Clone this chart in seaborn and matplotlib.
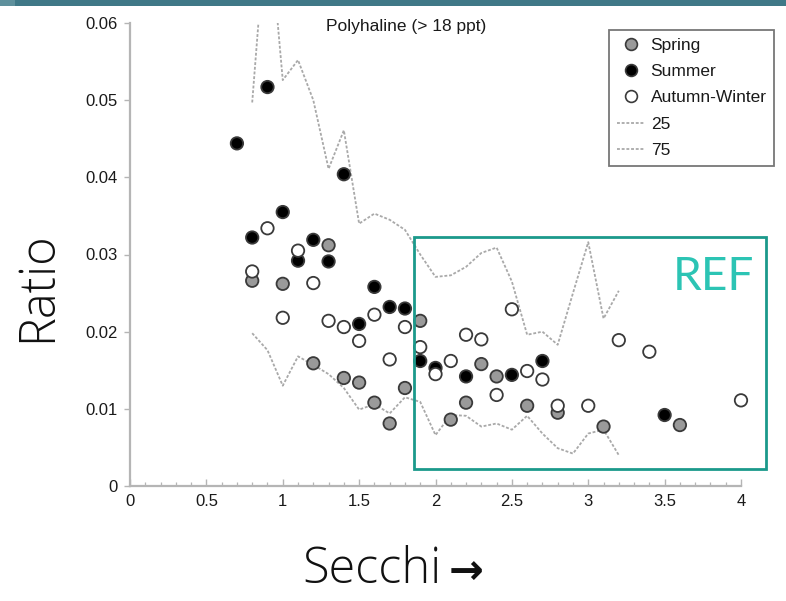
import matplotlib
matplotlib.use("Agg")
import matplotlib.pyplot as plt
from matplotlib.lines import Line2D
from matplotlib.patches import Rectangle
import seaborn as sns
import pandas as pd

# ---------------- data ----------------
spring_x = [0.8, 1.0, 1.3, 1.2, 1.4, 1.5, 1.6, 1.7, 1.8, 1.9, 2.1, 2.2, 2.3, 2.4, 2.6, 2.8, 3.1, 3.6]
spring_y = [0.0266, 0.0262, 0.0312, 0.0159, 0.0140, 0.0134, 0.0108, 0.0081, 0.0127, 0.0214,
            0.0086, 0.0108, 0.0158, 0.0142, 0.0104, 0.0095, 0.0077, 0.0079]

summer_x = [0.7, 0.9, 0.8, 1.0, 1.1, 1.2, 1.3, 1.4, 1.5, 1.6, 1.7, 1.8, 1.9, 2.0, 2.2, 2.5, 2.7, 3.5]
summer_y = [0.0444, 0.0517, 0.0322, 0.0355, 0.0292, 0.0319, 0.0291, 0.0404, 0.0210, 0.0258,
            0.0232, 0.0230, 0.0162, 0.0153, 0.0142, 0.0144, 0.0162, 0.0092]

autumn_x = [0.8, 0.9, 1.0, 1.1, 1.2, 1.3, 1.4, 1.5, 1.6, 1.7, 1.8, 1.9, 2.0, 2.1, 2.2, 2.3,
            2.4, 2.5, 2.6, 2.7, 2.8, 3.0, 3.2, 3.4, 4.0]
autumn_y = [0.0278, 0.0334, 0.0218, 0.0305, 0.0263, 0.0214, 0.0206, 0.0188, 0.0222, 0.0164,
            0.0206, 0.0180, 0.0145, 0.0162, 0.0196, 0.0190, 0.0118, 0.0229, 0.0149, 0.0138,
            0.0104, 0.0104, 0.0189, 0.0174, 0.0111]

line_x = [0.8, 0.9, 1.0, 1.1, 1.2, 1.3, 1.4, 1.5, 1.6, 1.7, 1.8, 1.9, 2.0, 2.1, 2.2, 2.3,
          2.4, 2.5, 2.6, 2.7, 2.8, 2.9, 3.0, 3.1, 3.2]
p25 = [0.0198, 0.0176, 0.0130, 0.0168, 0.0157, 0.0145, 0.0127, 0.0099, 0.0106, 0.0094,
       0.0115, 0.0109, 0.0066, 0.0092, 0.0091, 0.0077, 0.0081, 0.0073, 0.0091, 0.0068,
       0.0049, 0.0042, 0.0068, 0.0073, 0.0040]
p75 = [0.0497, 0.0750, 0.0526, 0.0552, 0.0500, 0.0411, 0.0461, 0.0340, 0.0353, 0.0345,
       0.0332, 0.0300, 0.0271, 0.0273, 0.0284, 0.0302, 0.0309, 0.0265, 0.0196, 0.0200,
       0.0183, 0.0250, 0.0316, 0.0217, 0.0253]

seasons = ["Spring", "Summer", "Autumn-Winter"]
x_ticks = [0, 0.5, 1, 1.5, 2, 2.5, 3, 3.5, 4]
x_tick_labels = ["0", "0.5", "1", "1.5", "2", "2.5", "3", "3.5", "4"]
y_ticks = [0, 0.01, 0.02, 0.03, 0.04, 0.05, 0.06]
y_tick_labels = ["0", "0.01", "0.02", "0.03", "0.04", "0.05", "0.06"]

df = pd.concat([
    pd.DataFrame({"secchi": spring_x, "ratio": spring_y, "season": "Spring"}),
    pd.DataFrame({"secchi": summer_x, "ratio": summer_y, "season": "Summer"}),
    pd.DataFrame({"secchi": autumn_x, "ratio": autumn_y, "season": "Autumn-Winter"}),
], ignore_index=True)
lines_df = pd.DataFrame({"secchi": line_x, "p25": p25, "p75": p75})

# ---------------- style ----------------
sns.set_style("white")
plt.rcParams["font.family"] = ["Liberation Sans", "DejaVu Sans"]

fill = {"Spring": "#9a9a9a", "Summer": "#000000", "Autumn-Winter": "#ffffff"}
line_color = "#a9a9a9"
line_dash = (0, (1.6, 1.0))

W, H = 786, 601
fig = plt.figure(figsize=(W / 100, H / 100), dpi=100)
ax = fig.add_axes([130 / W, (H - 486) / H, 611 / W, 463 / H])

sns.lineplot(data=lines_df, x="secchi", y="p25", ax=ax, color=line_color,
             linestyle=line_dash, linewidth=1.3, zorder=2)
sns.lineplot(data=lines_df, x="secchi", y="p75", ax=ax, color=line_color,
             linestyle=line_dash, linewidth=1.3, zorder=2)
sns.scatterplot(data=df, x="secchi", y="ratio", hue="season", hue_order=seasons,
                palette=fill, edgecolor="#3a3a3a", linewidth=1.3, s=80,
                legend=False, ax=ax, zorder=3, clip_on=False)

ax.set_xlim(0, 4)
ax.set_ylim(0, 0.06)
ax.set_xticks(x_ticks)
ax.set_xticklabels(x_tick_labels)
ax.set_xticks([i / 10 for i in range(41)], minor=True)
ax.set_yticks(y_ticks)
ax.set_yticklabels(y_tick_labels)
ax.set_xlabel("")
ax.set_ylabel("")

for s in ["top", "right"]:
    ax.spines[s].set_visible(False)
for s in ["left", "bottom"]:
    ax.spines[s].set_color("#b5b5b5")
    ax.spines[s].set_linewidth(1.6)

tick_font = ["Liberation Sans Narrow", "Liberation Sans", "DejaVu Sans"]
ax.tick_params(axis="x", which="major", direction="in", length=5, width=1.0,
               color="#b5b5b5", labelsize=12, pad=6, bottom=True)
ax.tick_params(axis="x", which="minor", direction="in", length=3, width=0.9,
               color="#b5b5b5", bottom=True)
ax.tick_params(axis="y", which="major", direction="out", length=4, width=1.0,
               color="#b5b5b5", labelsize=12, pad=5, left=True)
for lab in ax.get_xticklabels() + ax.get_yticklabels():
    lab.set_family(tick_font)
    lab.set_color("#1a1a1a")

# title
fig.text(406 / W, 1 - 27 / H, "Polyhaline (> 18 ppt)", ha="center", va="center",
         fontsize=12.5, color="#1a1a1a")

# legend
handles = [
    Line2D([], [], linestyle="none", marker="o", markersize=8.5,
           markerfacecolor=fill[s], markeredgecolor="#3a3a3a", markeredgewidth=1.2)
    for s in seasons
] + [
    Line2D([], [], color=line_color, linestyle=line_dash, linewidth=1.3),
    Line2D([], [], color=line_color, linestyle=line_dash, linewidth=1.3),
]
labels = seasons + ["25", "75"]
leg = fig.legend(handles, labels, loc="upper left",
                 bbox_to_anchor=(609 / W, 1 - 30 / H), fontsize=12.5,
                 frameon=True, fancybox=False, borderpad=0.45, labelspacing=0.64,
                 handlelength=1.6, handletextpad=0.35, borderaxespad=0)
leg.get_frame().set_edgecolor("#555555")
leg.get_frame().set_linewidth(1.3)
for t in leg.get_texts():
    t.set_color("#1a1a1a")

# big slide labels
big_font = ["Open Sans", "DejaVu Sans"]
fig.text(38 / W, 1 - 287 / H, "Ratio", rotation=90, ha="center", va="center",
         fontsize=35, family=big_font, weight="light", color="#111111")
fig.text(442 / W, 1 - 570 / H, "Secchi", ha="right", va="center",
         fontsize=35, family=big_font, weight="light", color="#111111")
fig.text(449 / W, 1 - 572 / H, "\u2192", ha="left", va="center",
         fontsize=30, family=["DejaVu Sans"], weight="bold", color="#111111")

# teal REF box
fig.patches.append(Rectangle((414 / W, (H - 469) / H), 352 / W, 232 / H,
                             transform=fig.transFigure, fill=False,
                             edgecolor="#1b998b", linewidth=2.0, zorder=5))
fig.text(713 / W, 1 - 277 / H, "REF", ha="center", va="center",
         fontsize=33, family=["Lato", "DejaVu Sans"], color="#2cc4b4")

# top band
fig.patches.append(Rectangle((0, 1 - 6 / H), 1, 6 / H, transform=fig.transFigure,
                             facecolor="#3f7887", edgecolor="none", zorder=5))
fig.patches.append(Rectangle((0, 1 - 6 / H), 15 / W, 6 / H, transform=fig.transFigure,
                             facecolor="#5e909c", edgecolor="none", zorder=6))

fig.savefig("out.png", dpi=100)
